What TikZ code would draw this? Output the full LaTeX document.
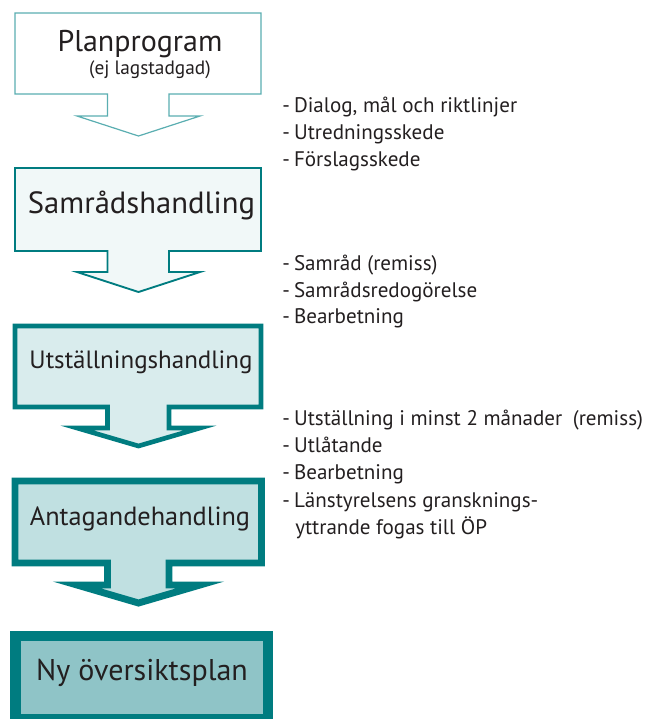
\documentclass[tikz,border=0pt]{standalone}
\usepackage{fontspec}
\setmainfont{PT Sans}
\usepackage{tikz}
\definecolor{stepline}{HTML}{007C80}
\definecolor{steplight}{HTML}{5AAEB1}
\definecolor{fillone}{HTML}{F1F8F8}
\definecolor{filltwo}{HTML}{D9ECED}
\definecolor{fillthree}{HTML}{C0E0E1}
\definecolor{fillfour}{HTML}{8FC4C7}
\definecolor{textgrey}{HTML}{231F20}
\newcommand*{\dashitem}{-\hspace{0.2em}}
\tikzset{
  stepshape/.style={draw=stepline, line join=miter, miter limit=10},
  steptitle/.style={anchor=base, text=textgrey},
  sidenote/.style={anchor=base west, inner sep=0pt, text=textgrey, font=\fontsize{15.8}{18}\selectfont}
}

\begin{document}
\begin{tikzpicture}[x=0.75pt, y=-0.75pt]
            \useasboundingbox (0, 0) rectangle (654, 719);
            % steps with their arrows
            \draw[stepshape, draw=steplight, fill=white, line width=0.9pt] (15, 13) -- (261, 13) -- (261, 94) -- (169, 94) -- (169, 116) -- (200, 116) -- (138.5, 136) -- (77, 116) -- (107.5, 116) -- (107.5, 94) -- (15, 94) -- cycle;
            \draw[stepshape, fill=fillone, line width=1.4pt] (15, 168) -- (261, 168) -- (261, 251) -- (169, 251) -- (169, 272) -- (200, 272) -- (138.5, 292) -- (77, 272) -- (107.5, 272) -- (107.5, 251) -- (15, 251) -- cycle;
            \draw[stepshape, fill=filltwo, line width=3.5pt] (15, 326) -- (261, 326) -- (261, 407) -- (169, 407) -- (169, 428) -- (200, 428) -- (138.5, 446) -- (77, 428) -- (107.5, 428) -- (107.5, 407) -- (15, 407) -- cycle;
            \draw[stepshape, fill=fillthree, line width=5.2pt] (15, 481) -- (261.5, 481) -- (261.5, 563) -- (169, 563) -- (169, 585) -- (200, 585) -- (138.5, 603) -- (77, 585) -- (107.5, 585) -- (107.5, 563) -- (15, 563) -- cycle;
            \draw[stepshape, fill=fillfour, line width=8pt] (15.5, 636) rectangle (268, 719.5);
            % titles
            \node[steptitle, font=\fontsize{22.5}{24}\selectfont] (planprogram) at (140, 51) {Planprogram};
            \node[steptitle, font=\fontsize{14.5}{16}\selectfont] (lagstadgad) at (150, 74) {(ej lagstadgad)};
            \node[steptitle, font=\fontsize{23}{26}\selectfont] (samrad) at (141.5, 213) {Samrådshandling};
            \node[steptitle, font=\fontsize{18.75}{22}\selectfont] (utstallning) at (141, 368) {Utställningshandling};
            \node[steptitle, font=\fontsize{19.75}{22}\selectfont] (antagande) at (140, 525) {Antagandehandling};
            \node[steptitle, font=\fontsize{22.5}{24}\selectfont] (oversiktsplan) at (142, 680) {Ny översiktsplan};
            % notes beside the arrows
            \node[sidenote] (dialog) at (282, 112) {\dashitem Dialog, mål och riktlinjer};
            \node[sidenote] (utredning) at (282, 139) {\dashitem Utredningsskede};
            \node[sidenote] (forslag) at (282, 166) {\dashitem Förslagsskede};
            \node[sidenote] (remiss) at (282, 270) {\dashitem Samråd (remiss)};
            \node[sidenote] (redogorelse) at (282, 297) {\dashitem Samrådsredogörelse};
            \node[sidenote] (bearbetningA) at (282, 323) {\dashitem Bearbetning};
            \node[sidenote] (manader) at (282, 425) {\dashitem Utställning i minst 2 månader\hspace{0.5em}(remiss)};
            \node[sidenote] (utlatande) at (282, 452) {\dashitem Utlåtande};
            \node[sidenote] (bearbetningB) at (282, 479) {\dashitem Bearbetning};
            \node[sidenote] (granskning) at (282, 507) {\dashitem Länstyrelsens gransknings-};
            \node[sidenote] (yttrande) at (295, 534) {yttrande fogas till ÖP};
        \end{tikzpicture}
\end{document}
